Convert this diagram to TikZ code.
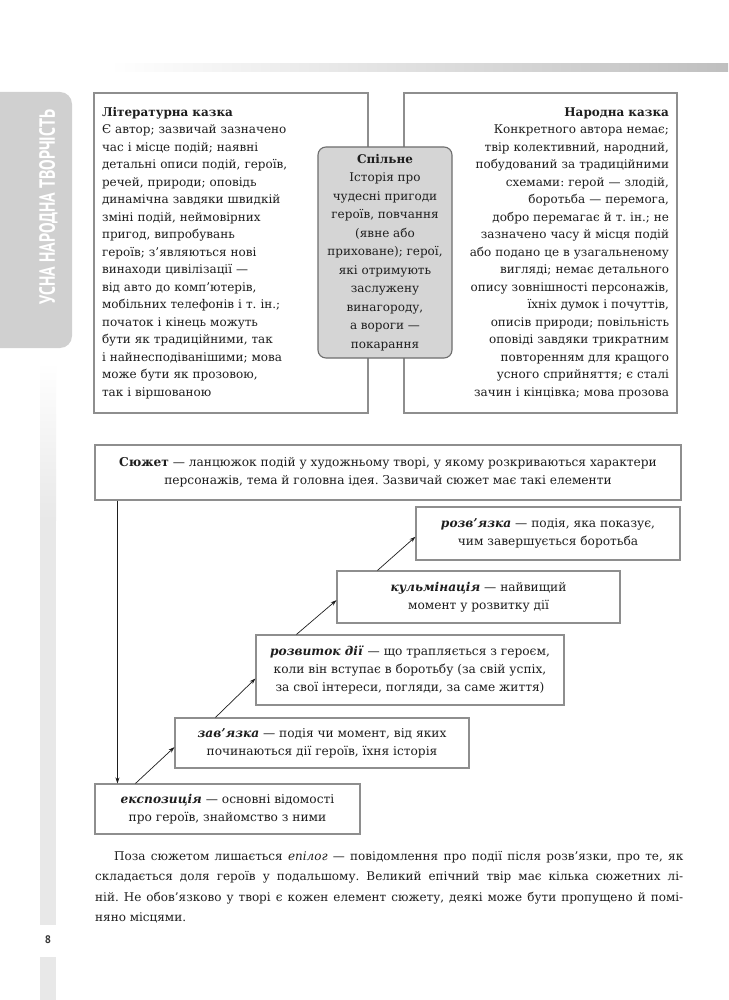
\documentclass[tikz,border=0pt]{standalone}
\usepackage{fontspec}
\setmainfont{DejaVu Serif}
\newfontfamily\tabfont{PT Sans}
\usepackage{graphicx}
\usetikzlibrary{arrows.meta,calc}
\definecolor{boxline}{HTML}{8E8E8E}
\definecolor{ink}{HTML}{1E1E1E}
\definecolor{midfill}{HTML}{D5D5D5}
\definecolor{midline}{HTML}{6E6E6E}
\definecolor{tabgray}{HTML}{D0D0D0}
\definecolor{stripgray}{HTML}{E8E8E8}
\frenchspacing
\begin{document}
\begin{tikzpicture}[x=1pt,y=-1pt,
  every node/.style={text=ink},
  framebox/.style={draw=boxline, line width=1.1pt, fill=white, inner xsep=8pt, inner ysep=0pt,
    font=\frenchspacing\fontsize{12}{17.5}\selectfont},
  midbox/.style={draw=midline, line width=1.1pt, fill=midfill, rounded corners=8pt, align=center,
    inner sep=0pt, font=\frenchspacing\fontsize{12}{18.5}\selectfont},
  stepbox/.style={draw=boxline, line width=1.1pt, fill=white, align=center, inner sep=0pt,
    font=\frenchspacing\fontsize{12.2}{18}\selectfont},
  link/.style={draw=ink, line width=0.7pt, -{Stealth[length=6pt,width=4pt]}}
]
\useasboundingbox[fill=white] (0,0) rectangle (728,1000);
% top bar and side tab
\shade[left color=white, right color=black!25] (110,64) rectangle (728,72);
\fill[tabgray, rounded corners=12pt] (-20,92) rectangle (72,348);
\node[rotate=90, text=white, inner sep=0pt] (tabtitle) at (48.5,207)
  {\scalebox{0.72}[1]{\tabfont\bfseries\fontsize{22}{22}\selectfont УСНА НАРОДНА ТВОРЧІСТЬ}};
\shade[top color=white, bottom color=stripgray] (40,362) rectangle (56,520);
\fill[stripgray] (40,520) rectangle (56,925);
\fill[stripgray] (40,957) rectangle (56,1000);
\node[text=ink!90, inner sep=0pt] (pagenum) at (48,940) {\tabfont\bfseries\fontsize{11}{11}\selectfont 8};

% top comparison boxes
\node[framebox, text width=258pt, align=left, minimum height=320pt] (lit) at (231,253) {%
\textbf{Літературна казка}\\
Є автор; зазвичай зазначено\\
час і місце подій; наявні\\
детальні описи подій, героїв,\\
речей, природи; оповідь\\
динамічна завдяки швидкій\\
зміні подій, неймовірних\\
пригод, випробувань\\
героїв; з’являються нові\\
винаходи цивілізації —\\
від авто до комп’ютерів,\\
мобільних телефонів і т. ін.;\\
початок і кінець можуть\\
бути як традиційними, так\\
і найнесподіванішими; мова\\
може бути як прозовою,\\
так і віршованою};
\node[framebox, text width=257pt, align=right, minimum height=320pt] (folk) at (540.5,253) {%
\textbf{Народна казка}\\
Конкретного автора немає;\\
твір колективний, народний,\\
побудований за традиційними\\
схемами: герой — злодій,\\
боротьба — перемога,\\
добро перемагає й т. ін.; не\\
зазначено часу й місця подій\\
або подано це в узагальненому\\
вигляді; немає детального\\
опису зовнішності персонажів,\\
їхніх думок і почуттів,\\
описів природи; повільність\\
оповіді завдяки трикратним\\
повторенням для кращого\\
усного сприйняття; є сталі\\
зачин і кінцівка; мова прозова};
\node[midbox, minimum width=134pt, minimum height=211pt] (common) at (385,252.5) {%
\textbf{Спільне}\\
Історія про\\
чудесні пригоди\\
героїв, повчання\\
(явне або\\
приховане); герої,\\
які отримують\\
заслужену\\
винагороду,\\
а вороги —\\
покарання};

% plot elements
\node[stepbox, minimum width=586pt, minimum height=55pt] (sujet) at (388,472.5) {%
\textbf{Сюжет} — ланцюжок подій у художньому творі, у якому розкриваються характери\\
персонажів, тема й головна ідея. Зазвичай сюжет має такі елементи};
\node[stepbox, minimum width=264pt, minimum height=53pt] (rozv) at (548,533.5) {%
\textbf{\textit{розв’язка}} — подія, яка показує,\\
чим завершується боротьба};
\node[stepbox, minimum width=283pt, minimum height=52pt] (kulm) at (478.5,597) {%
\textbf{\textit{кульмінація}} — найвищий\\
момент у розвитку дії};
\node[stepbox, minimum width=308pt, minimum height=70pt] (rozvytok) at (410,670) {%
\textbf{\textit{розвиток дії}} — що трапляється з героєм,\\
коли він вступає в боротьбу (за свій успіх,\\
за свої інтереси, погляди, за саме життя)};
\node[stepbox, minimum width=294pt, minimum height=50pt] (zav) at (322,743) {%
\textbf{\textit{зав’язка}} — подія чи момент, від яких\\
починаються дії героїв, їхня історія};
\node[stepbox, minimum width=265pt, minimum height=50pt] (eksp) at (227.5,809) {%
\textbf{\textit{експозиція}} — основні відомості\\
про героїв, знайомство з ними};

\draw[link] ($(sujet.south west)+(23,0)$) -- ($(eksp.north west)+(23,0)$);
\draw[link] ($(eksp.north west)+(41,0)$) -- ($(zav.north west)!0.58!(zav.south west)$);
\draw[link] ($(zav.north west)+(41,0)$) -- ($(rozvytok.north west)!0.62!(rozvytok.south west)$);
\draw[link] ($(rozvytok.north west)+(41,0)$) -- ($(kulm.north west)!0.56!(kulm.south west)$);
\draw[link] ($(kulm.north west)+(41,0)$) -- ($(rozv.north west)!0.56!(rozv.south west)$);

% closing paragraph
\node[anchor=north west, inner sep=0pt, text width=588pt, align=justify,
  font=\frenchspacing\fontsize{12}{20.5}\selectfont] (epilog) at (95,851) {%
\hspace*{19pt}Поза сюжетом лишається \textit{епілог} — повідомлення про події після розв’язки, про те, як\linebreak
складається доля героїв у подальшому. Великий епічний твір має кілька сюжетних лі-\linebreak
ній. Не обов’язково у творі є кожен елемент сюжету, деякі може бути пропущено й помі-\linebreak
няно місцями.};
\end{tikzpicture}
\end{document}
